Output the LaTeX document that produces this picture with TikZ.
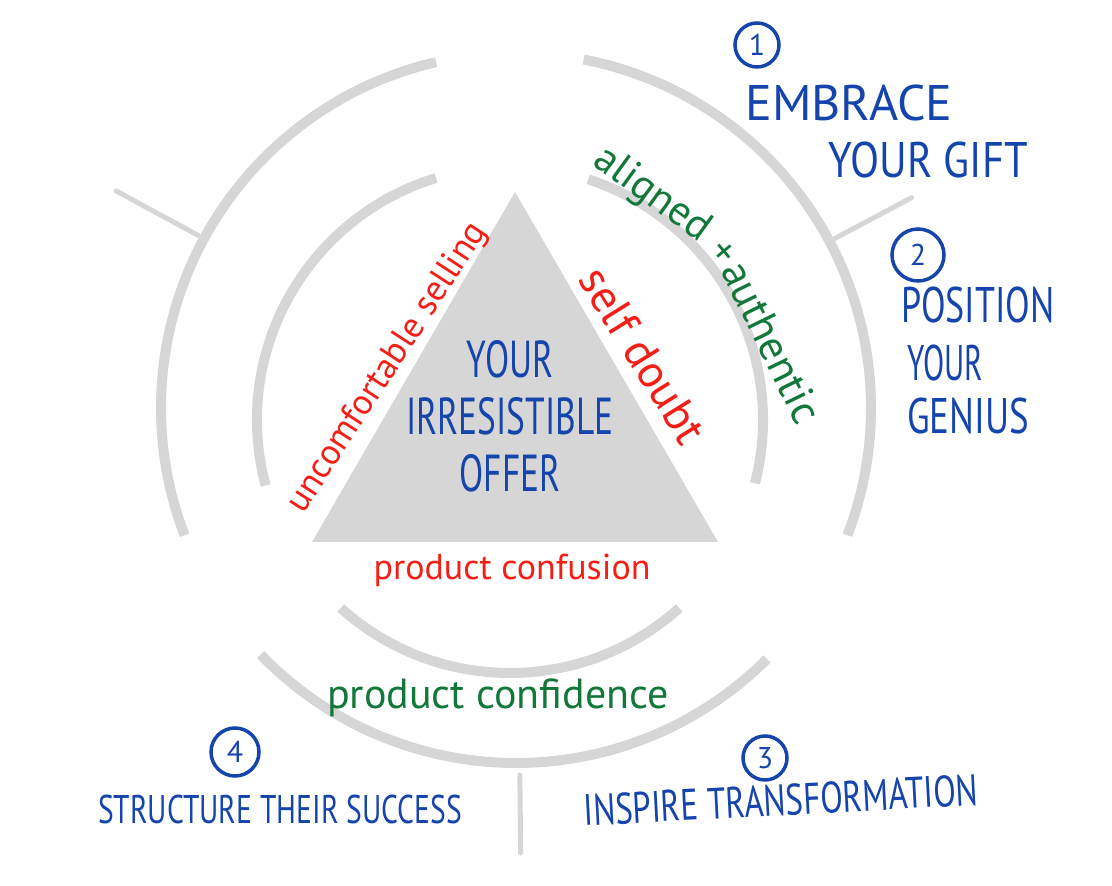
\documentclass[tikz,border=0pt]{standalone}
\usepackage{fontspec}
\setmainfont{PT Sans}
\usepackage{tikz}
\usetikzlibrary{calc}
\definecolor{ringgray}{RGB}{214,214,214}
\definecolor{inkblue}{RGB}{20,68,172}
\definecolor{inkred}{RGB}{244,30,22}
\definecolor{inkgreen}{RGB}{18,120,58}
\newcommand{\penfont}[2]{\fontsize{#1}{#2}\selectfont}
\tikzset{
  ring/.style={draw=ringgray, line width=10pt},
  spoke/.style={draw=ringgray, line width=5pt, line cap=round},
  stepno/.style={circle, draw=inkblue, line width=3.5pt, minimum size=44pt, inner sep=0pt, text=inkblue, font=\penfont{30pt}{32pt}},
  bluepen/.style={text=inkblue, inner sep=0pt, font=\penfont{50pt}{55pt}},
  redpen/.style={text=inkred, inner sep=0pt},
  greenpen/.style={text=inkgreen, inner sep=0pt}
}

\begin{document}
\begin{tikzpicture}[x=1pt, y=1pt]
            \useasboundingbox (0,0) rectangle (1112,886);
            \def\ro{355}
            \def\ri{253}
            \coordinate (oc) at (516,478);
            \coordinate (ic) at (510,466);
            \coordinate (t1) at (515,694);
            \coordinate (t2) at (312,344);
            \coordinate (t3) at (718,344);
            \fill[ringgray] (t1) -- (t2) -- (t3) -- cycle;
            \draw[ring] (oc) ++(103:\ro) arc[start angle=103, end angle=201, radius=\ro];
            \draw[ring] (oc) ++(79:\ro) arc[start angle=79, end angle=-21, radius=\ro];
            \draw[ring] (oc) ++(224:\ro) arc[start angle=224, end angle=315, radius=\ro];
            \draw[ring] (ic) ++(107:\ri) arc[start angle=107, end angle=195, radius=\ri];
            \draw[ring] (ic) ++(72:\ri) arc[start angle=72, end angle=-14.5, radius=\ri];
            \draw[ring] (ic) ++(228:\ri) arc[start angle=228, end angle=312, radius=\ri];
            \draw[spoke] (oc) ++(151.5:362) -- ++(151.5:93);
            \draw[spoke] (oc) ++(28:360) -- ++(28:88);
            \draw[spoke] (oc) ++(270.6:367) -- ++(270.6:78);
            \node[bluepen, font=\penfont{52pt}{57pt}, xscale=0.68, align=center] (offer) at (510,470) {YOUR\\IRRESISTIBLE\\OFFER};
            \node[redpen, font=\penfont{36pt}{40pt}, rotate=57] (selling) at (388,518) {uncomfortable selling};
            \node[redpen, font=\penfont{46pt}{50pt}, rotate=-58] (doubt) at (643,531) {self doubt};
            \node[redpen, font=\penfont{36pt}{40pt}] (confusion) at (512,316) {product confusion};
            \node[greenpen, font=\penfont{42pt}{46pt}, rotate=-36] (aligned) at (652,691) {aligned};
            \node[greenpen, font=\penfont{40pt}{44pt}, rotate=-50] (plus) at (722,633) {+};
            \node[greenpen, font=\penfont{43pt}{47pt}, rotate=-64] (authentic) at (772,544) {authentic};
            \node[greenpen, font=\penfont{42pt}{46pt}] (confidence) at (498,188) {product confidence};
            \node[stepno] (n1) at (757,841) {1};
            \node[bluepen] (embrace) at (849,783) {EMBRACE};
            \node[bluepen, xscale=0.85] (gift) at (928,726) {YOUR GIFT};
            \node[stepno, minimum size=52pt] (n2) at (918,631) {2};
            \node[bluepen, xscale=0.72] (position) at (978,581) {POSITION};
            \node[bluepen, xscale=0.62] (your) at (945,523) {YOUR};
            \node[bluepen, xscale=0.74] (genius) at (968,470) {GENIUS};
            \node[stepno] (n3) at (765,128) {3};
            \node[bluepen, font=\penfont{44pt}{48pt}, rotate=3, xscale=0.75] (inspire) at (781,86) {INSPIRE TRANSFORMATION};
            \node[stepno, minimum size=48pt] (n4) at (235,134) {4};
            \node[bluepen, font=\penfont{40pt}{44pt}, xscale=0.74] (structure) at (280,76) {STRUCTURE THEIR SUCCESS};
          \end{tikzpicture}
\end{document}
